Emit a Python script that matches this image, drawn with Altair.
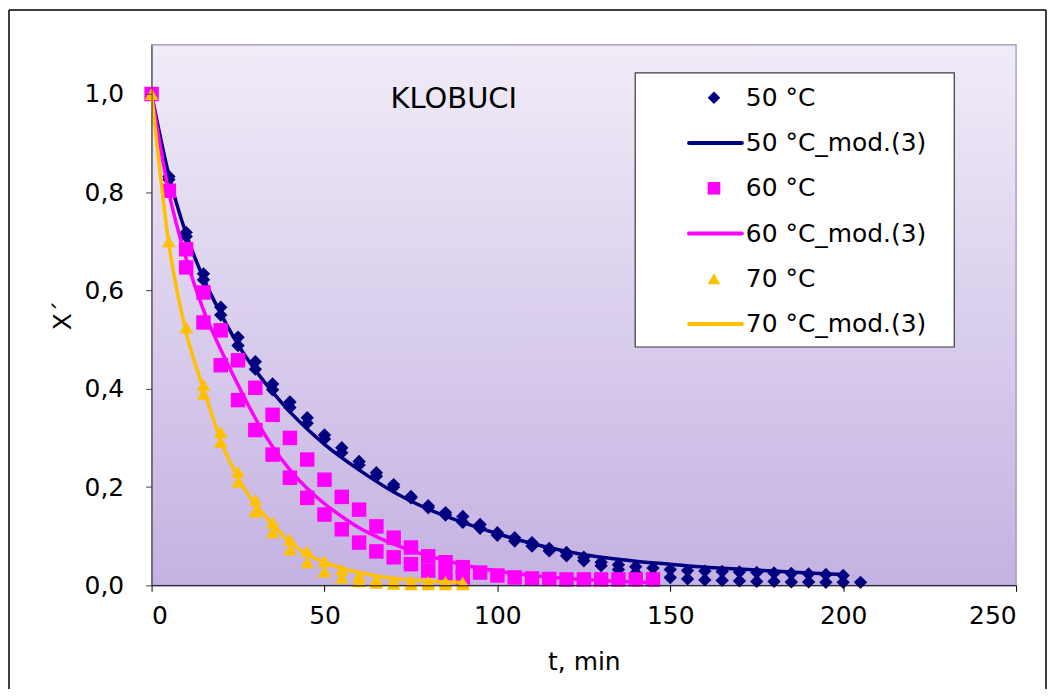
import altair as alt
import pandas as pd

# ---------------- data ----------------
# 50 °C measurements (two replicate runs)
T50_A = [0, 5, 10, 15, 20, 25, 30, 35, 40, 45, 50, 55, 60, 65, 70, 75, 80, 85, 90, 95, 100,
         105, 110, 115, 120, 125, 130, 135, 140, 145, 150, 155, 160, 165, 170, 175, 180, 185, 190, 195, 200]
X50_A = [1.0, 0.832, 0.718, 0.634, 0.566, 0.505, 0.455, 0.410, 0.373, 0.341, 0.306, 0.280, 0.252, 0.229,
         0.205, 0.181, 0.162, 0.148, 0.140, 0.124, 0.107, 0.097, 0.087, 0.075, 0.067, 0.057, 0.047, 0.042,
         0.038, 0.035, 0.032, 0.030, 0.029, 0.028, 0.027, 0.026, 0.025, 0.024, 0.023, 0.022, 0.020]
T50_B = [0, 5, 10, 15, 20, 25, 30, 35, 40, 45, 50, 55, 60, 65, 70, 75, 80, 85, 90, 95, 100,
         105, 110, 115, 120, 125, 130, 135, 140, 145, 150, 155, 160, 165, 170, 175, 180, 185, 190, 195, 200, 205]
X50_B = [1.0, 0.826, 0.710, 0.622, 0.550, 0.488, 0.440, 0.398, 0.362, 0.330, 0.298, 0.270, 0.245, 0.222,
         0.200, 0.178, 0.158, 0.143, 0.128, 0.116, 0.102, 0.090, 0.080, 0.070, 0.060, 0.050, 0.040, 0.032,
         0.025, 0.020, 0.016, 0.013, 0.011, 0.010, 0.009, 0.008, 0.008, 0.007, 0.007, 0.006, 0.006, 0.006]

# 60 °C measurements (two replicate runs)
T60_A = [0, 5, 10, 15, 20, 25, 30, 35, 40, 45, 50, 55, 60, 65, 70, 75, 80, 85, 90, 95, 100,
         105, 110, 115, 120, 125, 130, 135, 140, 145]
X60_A = [1.0, 0.803, 0.684, 0.596, 0.519, 0.458, 0.402, 0.347, 0.300, 0.256, 0.215, 0.180, 0.154, 0.120,
         0.097, 0.077, 0.059, 0.047, 0.037, 0.026, 0.020, 0.016, 0.014, 0.013, 0.012, 0.012, 0.012, 0.012,
         0.012, 0.012]
T60_B = [10, 15, 20, 25, 30, 35, 40, 45, 50, 55, 60, 65, 70, 75, 80, 85, 90]
X60_B = [0.647, 0.535, 0.448, 0.377, 0.316, 0.266, 0.219, 0.178, 0.144, 0.114, 0.087, 0.069, 0.057,
         0.043, 0.030, 0.022, 0.016]

# 70 °C measurements (two replicate runs)
T70_A = [0, 5, 10, 15, 20, 25, 30, 35, 40, 45, 50, 55, 60, 65, 70, 75, 80, 85, 90]
X70_A = [1.0, 0.700, 0.525, 0.408, 0.312, 0.231, 0.174, 0.128, 0.093, 0.069, 0.049, 0.032, 0.018,
         0.012, 0.010, 0.008, 0.007, 0.007, 0.006]
T70_B = [15, 20, 25, 30, 35, 40, 45, 50, 55, 60, 65, 70, 75, 80, 85, 90]
X70_B = [0.390, 0.292, 0.211, 0.150, 0.108, 0.073, 0.047, 0.028, 0.016, 0.008, 0.005, 0.003, 0.002,
         0.002, 0.002, 0.002]

# model (3) curves
TM50 = [0, 5, 10, 15, 20, 25, 30, 35, 40, 45, 50, 60, 70, 80, 90, 100, 110, 120, 130, 140, 150,
        160, 170, 180, 190, 200]
XM50 = [1.0, 0.835, 0.715, 0.625, 0.553, 0.490, 0.438, 0.393, 0.353, 0.318, 0.287, 0.235, 0.190,
        0.155, 0.128, 0.105, 0.085, 0.069, 0.057, 0.049, 0.043, 0.037, 0.033, 0.029, 0.025, 0.022]
TM60 = [0, 5, 10, 15, 20, 25, 30, 35, 40, 45, 50, 55, 60, 65, 70, 75, 80, 90, 100, 110, 120, 130, 145]
XM60 = [1.0, 0.800, 0.665, 0.560, 0.480, 0.408, 0.340, 0.282, 0.235, 0.197, 0.166, 0.140, 0.117,
        0.099, 0.084, 0.071, 0.060, 0.042, 0.029, 0.020, 0.014, 0.010, 0.006]
TM70 = [0, 5, 10, 15, 20, 25, 30, 35, 40, 45, 50, 55, 60, 65, 70, 80, 90]
XM70 = [1.0, 0.695, 0.515, 0.400, 0.295, 0.218, 0.165, 0.124, 0.088, 0.063, 0.047, 0.035, 0.026,
        0.019, 0.014, 0.009, 0.006]

SERIES = ["50 °C", "50 °C_mod.(3)", "60 °C", "60 °C_mod.(3)", "70 °C", "70 °C_mod.(3)"]
COLORS = ["#000080", "#000080", "#FF00FF", "#FF00FF", "#FFC000", "#FFC000"]
POINT_SERIES = ["50 °C", "60 °C", "70 °C"]
LINE_SERIES = ["50 °C_mod.(3)", "60 °C_mod.(3)", "70 °C_mod.(3)"]
SHAPES = ["diamond", "square", "triangle-up"]
LEGEND_ROWS = [0, 1, 2, 3, 4, 5]

X_TICKS = [0, 50, 100, 150, 200, 250]
Y_TICKS = [0.0, 0.2, 0.4, 0.6, 0.8, 1.0]
CHART_TITLE = "KLOBUCI"
TITLE_T, TITLE_X = 87.4, 0.99

# ---------------- layout ----------------
PLOT_W, PLOT_H = 867, 542
PAD = {"left": 144, "top": 36, "right": 32, "bottom": 104}
FONT = "DejaVu Sans"


def frame(label, ts, xs):
    return pd.DataFrame({"series": label, "t": ts, "X": xs})


color_scale = alt.Scale(domain=SERIES, range=COLORS)
shape_scale = alt.Scale(domain=POINT_SERIES, range=SHAPES)

x_enc = alt.X("t:Q", scale=alt.Scale(domain=[0, 250], nice=False),
              axis=alt.Axis(values=X_TICKS, grid=False, tickSize=6, labelPadding=12,
                            labelFontSize=25, titleFontSize=25, titlePadding=21,
                            domainColor="#000000", tickColor="#000000", zindex=2),
              title="t, min")
y_enc = alt.Y("X:Q", scale=alt.Scale(domain=[0, 1.1], nice=False, zero=False),
              axis=alt.Axis(values=Y_TICKS, grid=False, tickSize=6, labelPadding=22,
                            labelFontSize=25, titleFontSize=25, titlePadding=9,
                            labelExpr="replace(format(datum.value, '.1f'), '.', ',')",
                            domainColor="#404040", tickColor="#404040", zindex=2),
              title="X´")
col_enc = alt.Color("series:N", scale=color_scale, legend=None)
shp_enc = alt.Shape("series:N", scale=shape_scale, legend=None)

one = pd.DataFrame({"k": [0]})

gradient = alt.LinearGradient(
    gradient="linear",
    stops=[alt.GradientStop(color="#F1ECF8", offset=0),
           alt.GradientStop(color="#C4B2E2", offset=1)],
    x1=0, x2=0, y1=0, y2=1)

background = alt.Chart(one).mark_rect(color=gradient, stroke="#9C8DBA", strokeWidth=1.2).encode(
    x=alt.value(0), x2=alt.value(PLOT_W), y=alt.value(0), y2=alt.value(PLOT_H))


def points(df, size):
    return alt.Chart(df).mark_point(filled=True, size=size, opacity=1).encode(
        x=x_enc, y=y_enc, color=col_enc, shape=shp_enc)


def curve(df):
    return alt.Chart(df).mark_line(strokeWidth=3.5, interpolate="monotone").encode(
        x=x_enc, y=y_enc, color=col_enc)


p50 = pd.concat([frame(SERIES[0], T50_A, X50_A), frame(SERIES[0], T50_B, X50_B)])
p60 = pd.concat([frame(SERIES[2], T60_A, X60_A), frame(SERIES[2], T60_B, X60_B)])
p70 = pd.concat([frame(SERIES[4], T70_A, X70_A), frame(SERIES[4], T70_B, X70_B)])

title_mark = alt.Chart(one).mark_text(fontSize=29, font=FONT, color="#000000").encode(
    x=alt.datum(TITLE_T), y=alt.datum(TITLE_X), text=alt.value(CHART_TITLE))

main = alt.layer(
    background,
    points(p50, 180), curve(frame(SERIES[1], TM50, XM50)),
    points(p60, 210), curve(frame(SERIES[3], TM60, XM60)),
    points(p70, 190), curve(frame(SERIES[5], TM70, XM70)),
    title_mark,
)

# ---------------- manual legend ----------------
leg_df = pd.DataFrame({"series": SERIES, "row": LEGEND_ROWS})
leg_y = alt.Y("row:Q", scale=alt.Scale(domain=[0, 5], range=[53, 280]), axis=None)

leg_box = alt.Chart(one).mark_rect(fill="white", stroke="#3A3A3A", strokeWidth=1.2).encode(
    x=alt.value(485), x2=alt.value(805), y=alt.value(28), y2=alt.value(303))
leg_pts = alt.Chart(leg_df).transform_filter(
    alt.FieldOneOfPredicate(field="series", oneOf=POINT_SERIES)
).mark_point(filled=True, size=160, opacity=1).encode(
    x=alt.value(564), y=leg_y, color=col_enc, shape=shp_enc)
leg_lines = alt.Chart(leg_df).transform_filter(
    alt.FieldOneOfPredicate(field="series", oneOf=LINE_SERIES)
).mark_rule(strokeWidth=4, strokeCap="round").encode(
    x=alt.value(539), x2=alt.value(592), y=leg_y, color=col_enc)
leg_text = alt.Chart(leg_df).mark_text(align="left", baseline="middle", fontSize=25,
                                       font=FONT, color="#000000").encode(
    x=alt.value(596), y=leg_y, text="series:N")

# outer chart frame
fr_top = alt.Chart(one).mark_rule(color="#000000", strokeWidth=1.5).encode(
    x=alt.value(-143), x2=alt.value(PLOT_W + PAD["right"] - 2), y=alt.value(-35))
fr_left = alt.Chart(one).mark_rule(color="#000000", strokeWidth=1.5).encode(
    x=alt.value(-143), y=alt.value(-35), y2=alt.value(PLOT_H + PAD["bottom"]))
fr_right = alt.Chart(one).mark_rule(color="#000000", strokeWidth=1.5).encode(
    x=alt.value(PLOT_W + PAD["right"] - 2), y=alt.value(-35), y2=alt.value(PLOT_H + PAD["bottom"]))

legend = alt.layer(leg_box, leg_lines, leg_pts, leg_text, fr_top, fr_left, fr_right)

chart = alt.layer(main, legend).resolve_scale(y="independent").properties(
    width=PLOT_W, height=PLOT_H, padding=PAD,
    autosize=alt.AutoSizeParams(type="none"),
    background="white",
).configure_axis(
    labelFont=FONT, titleFont=FONT, labelColor="#000000", titleColor="#000000",
    titleFontWeight="normal",
).configure_view(stroke=None)

chart.save("out.html", embed_options={"renderer": "svg", "actions": False})
